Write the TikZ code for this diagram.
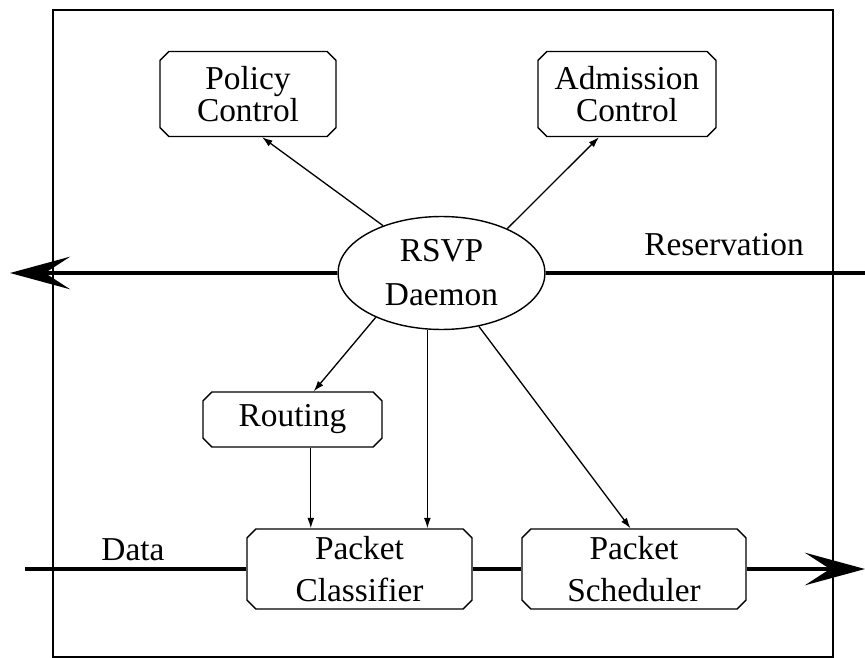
\documentclass[tikz,border=0pt]{standalone}
\usepackage{fontspec}
\setmainfont{Liberation Serif}
\usetikzlibrary{arrows.meta,shapes.misc,shapes.geometric}

\begin{document}
\begin{tikzpicture}[x=0.02cm,y=-0.02cm,
	unit/.style={draw,line width=0.8pt,chamfered rectangle,chamfered rectangle sep=2.5pt,
		inner sep=0pt,align=center,font=\fontsize{19}{24}\selectfont},
	daemon/.style={draw,line width=0.8pt,ellipse,inner sep=0pt,align=center,
		minimum width=4.14cm,minimum height=2.26cm,font=\fontsize{19}{25}\selectfont},
	conn/.style={line width=0.75pt,-{Latex[length=6pt,width=4pt]}},
	flow/.style={line width=2.8pt},
	bigtip/.style={-{Stealth[length=1.2cm,width=0.65cm,inset=0.5cm]}},
	lbl/.style={font=\fontsize{19}{24}\selectfont}]
	\useasboundingbox (0,0) rectangle (865,658);
	\draw[line width=0.85pt] (53,10) rectangle (833,657);
	% modules
	\node[unit,minimum width=3.52cm,minimum height=1.7cm,font=\fontsize{19}{18}\selectfont] (policy) at (248,94) {Policy\\Control};
	\node[unit,minimum width=3.56cm,minimum height=1.7cm,font=\fontsize{19}{18}\selectfont] (admission) at (627,94) {Admission\\Control};
	\node[daemon] (rsvp) at (441.5,273) {RSVP\\Daemon};
	\node[unit,minimum width=3.58cm,minimum height=1.1cm] (routing) at (292.5,419.5) {Routing};
	\node[unit,minimum width=4.5cm,minimum height=1.6cm] (classifier) at (359.5,569) {Packet\\Classifier};
	\node[unit,minimum width=4.48cm,minimum height=1.6cm] (scheduler) at (634,569) {Packet\\Scheduler};
	% ends of the flows
	\coordinate (resleft) at (10,273);
	\coordinate (resright) at (865,273);
	\coordinate (datain) at (25,569);
	\coordinate (dataout) at (865,569);
	% flows
	\draw[flow,bigtip] (rsvp.west) -- (resleft);
	\draw[flow] (rsvp.east) -- (resright);
	\draw[flow] (datain) -- (classifier.west);
	\draw[flow] (classifier.east) -- (scheduler.west);
	\draw[flow,bigtip] (scheduler.east) -- (dataout);
	\node[lbl] (reslbl) at (724,245) {Reservation};
	\node[lbl] (datalbl) at (133,550) {Data};
	% control connectors
	\draw[conn] (rsvp.141) -- (policy.-72);
	\draw[conn] (rsvp.34) -- (admission.237);
	\draw[conn] (rsvp.214) -- (routing.53);
	\draw[conn] (rsvp.-104.5) -- (rsvp.-104.5 |- classifier.north);
	\draw[conn] (rsvp.-55.4) -- (scheduler.95);
	\draw[conn] (routing.-57.5) -- (routing.-57.5 |- classifier.north);
\end{tikzpicture}
\end{document}
